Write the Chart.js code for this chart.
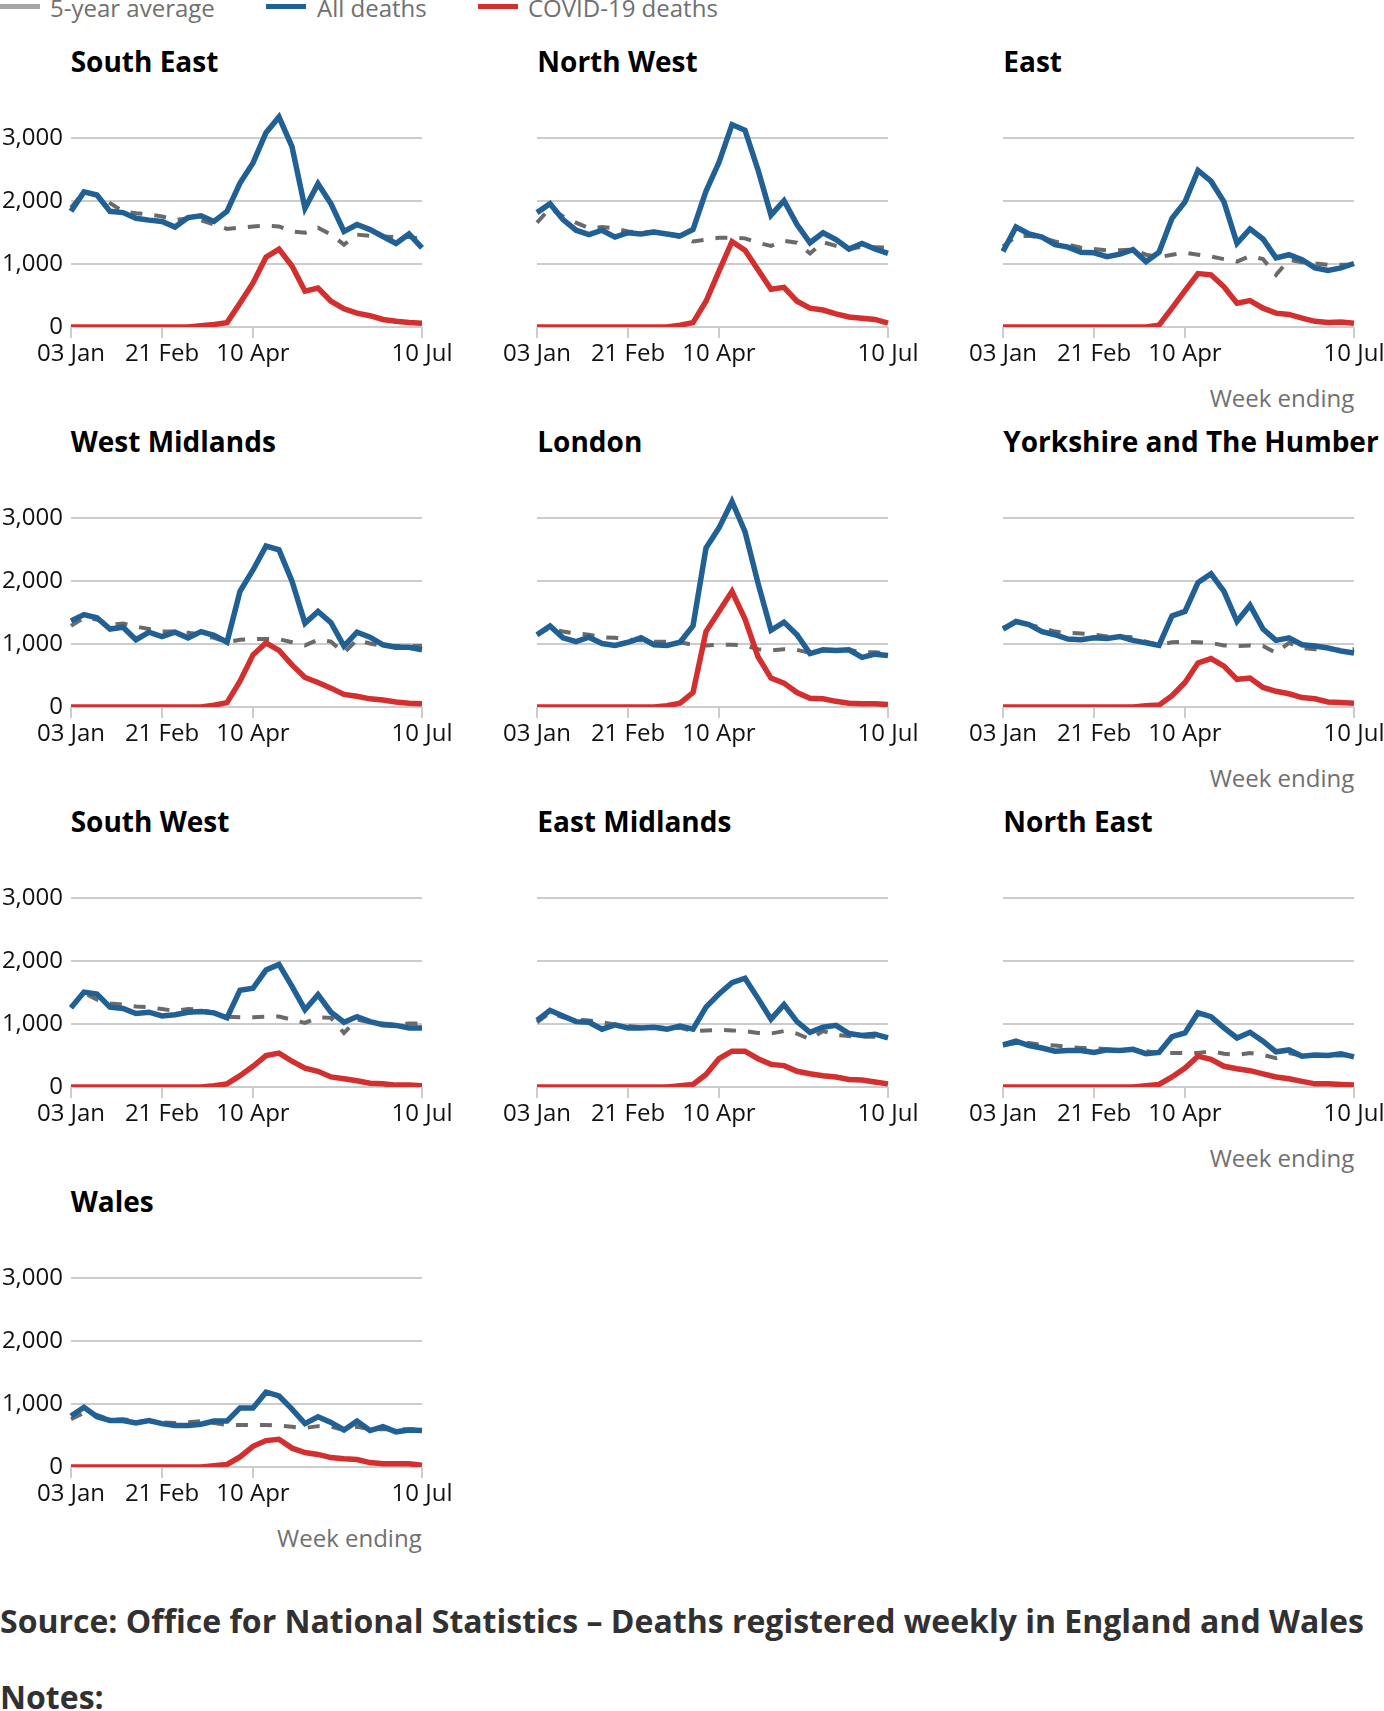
<!DOCTYPE html>
<html>
<head>
<meta charset="utf-8">
<script src="https://cdn.jsdelivr.net/npm/chart.js@4.4.1/dist/chart.umd.min.js"></script>
<style>
html,body{margin:0;padding:0;background:#fff;width:1384px;height:1711px;overflow:hidden;font-family:'Open Sans',sans-serif;}
.abs{position:absolute;}
.title{font-weight:700;font-size:28px;line-height:40px;color:#000;white-space:nowrap;}
.week{font-size:24px;line-height:34px;color:#707070;white-space:nowrap;text-align:right;}
.legtext{font-size:24px;line-height:34px;color:#707070;white-space:nowrap;}
.swatch{height:5px;width:40px;}
.source{font-weight:700;font-size:32px;line-height:40px;color:#323132;white-space:nowrap;}
canvas{display:block;}
</style>
</head>
<body>
<div id="root"></div>
<script>
// ---------- DATA ----------
const weeks = ['03 Jan','10 Jan','17 Jan','24 Jan','31 Jan','07 Feb','14 Feb','21 Feb','28 Feb','06 Mar','13 Mar','20 Mar','27 Mar','03 Apr','10 Apr','17 Apr','24 Apr','01 May','08 May','15 May','22 May','29 May','05 Jun','12 Jun','19 Jun','26 Jun','03 Jul','10 Jul'];
const tickWeeks = ['03 Jan','21 Feb','10 Apr','10 Jul'];
const yTicks = [0, 1000, 2000, 3000];
const seriesNames = ['5-year average','All deaths','COVID-19 deaths'];
const regions = ['South East','North West','East','West Midlands','London','Yorkshire and The Humber','South West','East Midlands','North East','Wales'];

const allSouthEast   = [1840,2150,2100,1840,1820,1730,1700,1680,1590,1740,1770,1680,1840,2290,2610,3090,3340,2870,1890,2280,1960,1520,1630,1550,1440,1330,1480,1260];
const covidSouthEast = [0,0,0,0,0,0,0,0,0,0,20,40,70,380,700,1110,1240,970,570,620,410,290,220,180,120,90,70,60];
const avgSouthEast   = [1900,2150,2100,1970,1840,1810,1790,1760,1700,1730,1700,1630,1560,1580,1600,1610,1600,1520,1500,1580,1470,1310,1470,1450,1440,1430,1430,1400];

const allNorthWest   = [1820,1960,1710,1540,1470,1540,1430,1500,1480,1510,1480,1450,1550,2160,2620,3220,3130,2500,1780,2010,1630,1340,1500,1390,1240,1330,1240,1170];
const covidNorthWest = [0,0,0,0,0,0,0,0,0,0,0,30,70,410,890,1360,1220,910,600,630,410,300,270,210,160,140,120,60];
const avgNorthWest   = [1660,1890,1760,1660,1570,1590,1570,1520,1500,1520,1470,1430,1360,1390,1420,1420,1410,1340,1290,1370,1340,1170,1350,1290,1240,1280,1270,1260];

const allEast   = [1200,1590,1480,1430,1310,1270,1190,1180,1120,1160,1230,1040,1190,1730,1990,2490,2320,1990,1330,1560,1400,1100,1150,1070,940,900,940,1010];
const covidEast = [0,0,0,0,0,0,0,0,0,0,0,0,30,300,580,850,830,640,380,420,300,220,200,140,90,70,80,60];
const avgEast   = [1280,1440,1450,1420,1360,1310,1260,1240,1220,1220,1230,1150,1110,1150,1180,1150,1120,1080,1040,1130,1080,830,1070,1030,1010,990,990,990];

const allWestMidlands   = [1370,1470,1420,1240,1270,1070,1190,1120,1190,1100,1200,1140,1030,1840,2180,2560,2500,2000,1330,1520,1340,970,1190,1110,990,950,950,910];
const covidWestMidlands = [0,0,0,0,0,0,0,0,0,0,0,30,70,410,830,1020,900,670,470,390,300,200,170,130,110,80,60,50];
const avgWestMidlands   = [1290,1420,1390,1310,1330,1280,1240,1200,1200,1180,1150,1100,1030,1070,1080,1080,1080,1030,980,1070,1040,860,1070,1010,970,970,970,970];

const allLondon   = [1150,1290,1100,1040,1110,1010,980,1030,1100,990,980,1030,1290,2530,2850,3270,2790,1970,1220,1350,1150,850,910,900,910,790,840,820];
const covidLondon = [0,0,0,0,0,0,0,0,0,0,20,60,230,1200,1520,1840,1400,800,460,380,230,140,130,90,60,50,50,40];
const avgLondon   = [1150,1260,1200,1170,1150,1110,1100,1070,1060,1040,1040,1030,990,980,990,990,980,920,900,920,910,860,900,900,910,870,870,850];

const allYorkshire   = [1240,1360,1310,1200,1150,1080,1070,1100,1090,1120,1060,1020,980,1450,1520,1980,2120,1840,1360,1620,1240,1060,1100,990,970,940,890,860];
const covidYorkshire = [0,0,0,0,0,0,0,0,0,0,0,20,30,180,390,700,770,650,440,460,310,250,210,150,130,80,70,60];
const avgYorkshire   = [1260,1350,1310,1260,1200,1180,1170,1150,1120,1120,1110,1040,990,1030,1040,1030,1020,980,970,980,970,860,1020,940,920,920,910,920];

const allSouthWest   = [1260,1510,1480,1270,1250,1170,1190,1130,1150,1190,1200,1180,1100,1540,1570,1860,1950,1600,1230,1470,1190,1030,1120,1040,990,980,940,940];
const covidSouthWest = [0,0,0,0,0,0,0,0,0,0,0,20,50,180,330,500,540,410,300,250,160,130,100,60,50,30,30,20];
const avgSouthWest   = [1260,1500,1390,1330,1310,1280,1270,1240,1210,1240,1230,1180,1120,1110,1110,1120,1120,1070,1020,1110,1100,860,1070,1030,1010,990,1010,1010];

const allEastMidlands   = [1060,1220,1130,1040,1030,920,990,940,940,950,920,970,920,1270,1480,1660,1730,1410,1080,1310,1040,870,950,980,850,820,840,780];
const covidEastMidlands = [0,0,0,0,0,0,0,0,0,0,0,20,40,200,450,570,570,450,360,340,250,210,180,160,120,110,80,50];
const avgEastMidlands   = [1030,1180,1110,1070,1060,1030,990,970,950,950,940,940,890,900,910,900,890,860,850,890,850,760,890,830,810,800,800,800];

const allNorthEast   = [670,730,660,620,570,580,580,550,590,580,600,530,550,800,860,1180,1120,940,780,870,730,560,590,490,510,500,530,480];
const covidNorthEast = [0,0,0,0,0,0,0,0,0,0,0,20,40,160,300,490,440,330,290,260,210,160,130,90,50,50,40,30];
const avgNorthEast   = [660,700,700,670,660,640,620,620,600,590,590,570,540,540,540,540,570,530,510,540,510,460,540,500,500,500,500,500];

const allWales   = [810,950,800,740,740,700,740,690,660,660,680,730,730,940,940,1190,1130,920,690,800,710,590,730,580,640,560,590,580];
const covidWales = [0,0,0,0,0,0,0,0,0,0,0,20,40,160,330,420,440,300,230,200,150,130,120,70,50,50,50,30];
const avgWales   = [760,860,830,750,760,730,730,710,700,710,730,700,670,670,670,670,660,640,620,650,640,590,640,600,600,600,600,600];

const sourceText = 'Source: Office for National Statistics \u2013 Deaths registered weekly in England and Wales';
const notesText = 'Notes:';
const axisTitle = 'Week ending';

// ---------- STYLE / LAYOUT ----------
const BLUE = '#206095', RED = '#d32f2f', GREY = '#6a6a6a', GREY_SWATCH = '#a6a6a6', GRID = '#cccccc';
const panels = [
  [allSouthEast, covidSouthEast, avgSouthEast],
  [allNorthWest, covidNorthWest, avgNorthWest],
  [allEast, covidEast, avgEast],
  [allWestMidlands, covidWestMidlands, avgWestMidlands],
  [allLondon, covidLondon, avgLondon],
  [allYorkshire, covidYorkshire, avgYorkshire],
  [allSouthWest, covidSouthWest, avgSouthWest],
  [allEastMidlands, covidEastMidlands, avgEastMidlands],
  [allNorthEast, covidNorthEast, avgNorthEast],
  [allWales, covidWales, avgWales]
];
const colLeft = [70.7, 537.3, 1003.3];   // chart-area left edge
const PLOT_W = 351, Y_AXIS_W = 70, RIGHT_PAD = 45, TOP_PAD = 10, PLOT_H = 220, X_AXIS_H = 50;
const ZERO0 = 327.3, ROW_STEP = 380;

const root = document.getElementById('root');
function addDiv(cls, text, left, top, extra) {
  const d = document.createElement('div');
  d.className = 'abs ' + cls;
  d.textContent = text;
  d.style.left = left + 'px';
  d.style.top = top + 'px';
  if (extra) Object.assign(d.style, extra);
  root.appendChild(d);
  return d;
}

// legend
const legendSpec = [[GREY_SWATCH, 0, 50], [BLUE, 266, 317], [RED, 478, 528]];
seriesNames.forEach((name, i) => {
  const [col, sx, tx] = legendSpec[i];
  const s = addDiv('swatch', '', sx, 4);
  s.style.background = col;
  addDiv('legtext', name, tx, -9);
});

Chart.defaults.font.family = "'Open Sans', sans-serif";

function fmt(v) { return String(v).replace(/\B(?=(\d{3})+(?!\d))/g, ','); }

panels.forEach((p, i) => {
  const col = i % 3, row = Math.floor(i / 3);
  const zero = ZERO0 + ROW_STEP * row;
  const cl = Math.round(colLeft[col] - Y_AXIS_W);
  const ct = Math.round(zero - PLOT_H - TOP_PAD);
  addDiv('title', regions[i], colLeft[col], 40.8 + ROW_STEP * row);
  const isLastInRow = (col === 2) || (i === panels.length - 1);
  if (isLastInRow) {
    addDiv('week', axisTitle, 0, zero + 53.5, {width: (colLeft[col] + PLOT_W) + 'px'});
  }
  const wrap = document.createElement('div');
  wrap.className = 'abs';
  wrap.style.left = cl + 'px';
  wrap.style.top = ct + 'px';
  const cv = document.createElement('canvas');
  const W = Y_AXIS_W + PLOT_W + RIGHT_PAD, H = TOP_PAD + PLOT_H + X_AXIS_H;
  cv.width = W; cv.height = H;
  cv.style.width = W + 'px'; cv.style.height = H + 'px';
  wrap.appendChild(cv);
  root.appendChild(wrap);
  const showY = col === 0;
  new Chart(cv, {
    type: 'line',
    data: {
      labels: weeks,
      datasets: [
        {label: seriesNames[2], data: p[1], borderColor: RED, borderWidth: 5.5, pointRadius: 0, tension: 0, fill: false, order: 0},
        {label: seriesNames[1], data: p[0], borderColor: BLUE, borderWidth: 5.5, pointRadius: 0, tension: 0, fill: false, order: 1},
        {label: seriesNames[0], data: p[2], borderColor: GREY, borderWidth: 4, borderDash: [12, 12], pointRadius: 0, tension: 0, fill: false, order: 2}
      ]
    },
    options: {
      responsive: false, animation: false, devicePixelRatio: 1, events: [],
      layout: {padding: {top: TOP_PAD, right: RIGHT_PAD, bottom: 0, left: 0}},
      plugins: {legend: {display: false}, tooltip: {enabled: false}, title: {display: false}},
      scales: {
        x: {
          type: 'category', offset: false,
          grid: {display: true, drawOnChartArea: false, drawTicks: true, tickLength: 11, color: GRID, lineWidth: 2},
          border: {display: false},
          ticks: {autoSkip: false, maxRotation: 0, minRotation: 0, padding: 2, color: '#111', font: {size: 24}},
          afterBuildTicks: s => { s.ticks = s.ticks.filter(t => tickWeeks.includes(weeks[t.value])); },
          afterFit: s => { s.height = X_AXIS_H; s.paddingLeft = 0; s.paddingRight = 0; s.paddingTop = 0; s.paddingBottom = 0; }
        },
        y: {
          min: 0, max: 3500,
          afterBuildTicks: s => { s.ticks = yTicks.map(v => ({value: v})); },
          ticks: {display: showY, padding: 8, color: '#111', font: {size: 24}, callback: v => fmt(v)},
          grid: {color: GRID, lineWidth: 2, drawTicks: false},
          border: {display: false},
          afterFit: s => { s.width = Y_AXIS_W; s.paddingLeft = 0; s.paddingRight = 0; s.paddingTop = 0; s.paddingBottom = 0; }
        }
      }
    }
  });
});

addDiv('source', sourceText, 0, 1601);
addDiv('source', notesText, 0, 1677);
</script>
</body>
</html>
